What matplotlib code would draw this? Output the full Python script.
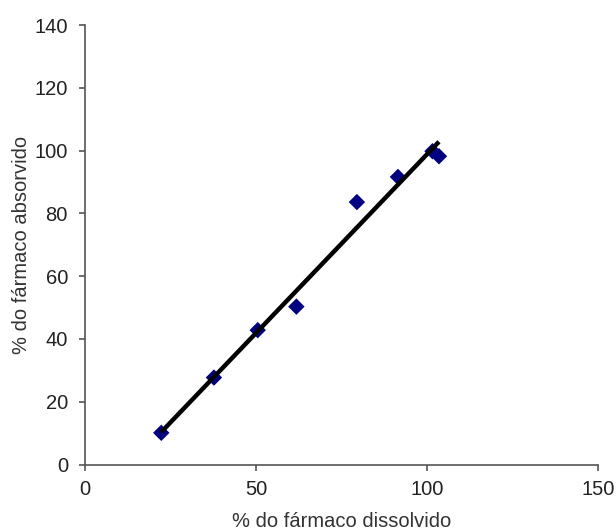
import matplotlib
matplotlib.use("Agg")
import matplotlib.pyplot as plt
import numpy as np

plt.rcParams['font.family'] = ['Liberation Sans', 'DejaVu Sans']

dissolvido = [22.3, 37.7, 50.5, 61.8, 79.5, 91.5, 101.6, 103.5]
absorvido = [10.1, 27.7, 42.8, 50.3, 83.6, 91.6, 99.8, 98.2]
xticks = [0, 50, 100, 150]
yticks = [0, 20, 40, 60, 80, 100, 120, 140]

fig = plt.figure(figsize=(6.16, 5.31), dpi=100)
ax = fig.add_axes([0.138, 0.1252, 0.8328, 0.8277])

x = np.array(dissolvido)
y = np.array(absorvido)
slope, intercept = np.polyfit(x, y, 1)
xl = np.array([x.min(), x.max()])
ax.plot(xl, slope * xl + intercept, color='black', lw=3.2, zorder=3, solid_capstyle='butt')
ax.scatter(x, y, marker='D', s=70, color='#000080', zorder=2, edgecolors='none')

ax.set_xlim(0, 150)
ax.set_ylim(0, 140)
ax.set_xticks(xticks)
ax.set_yticks(yticks)
for s in ['top', 'right']:
    ax.spines[s].set_visible(False)
for s in ['left', 'bottom']:
    ax.spines[s].set_color('#555555')
    ax.spines[s].set_linewidth(1.2)
ax.tick_params(direction='out', length=4.3, width=1.2, color='#555555', labelsize=14.5, labelcolor='#222222')
ax.tick_params(axis='y', pad=8)
ax.tick_params(axis='x', pad=7)
ax.set_xlabel('% do fármaco dissolvido', fontsize=14.5, color='#333333')
ax.set_ylabel('% do fármaco absorvido', fontsize=14.5, color='#333333')
ax.xaxis.set_label_coords(0.5, -0.108)
ax.yaxis.set_label_coords(-0.106, 0.5)

fig.savefig('out.png', dpi=100)
